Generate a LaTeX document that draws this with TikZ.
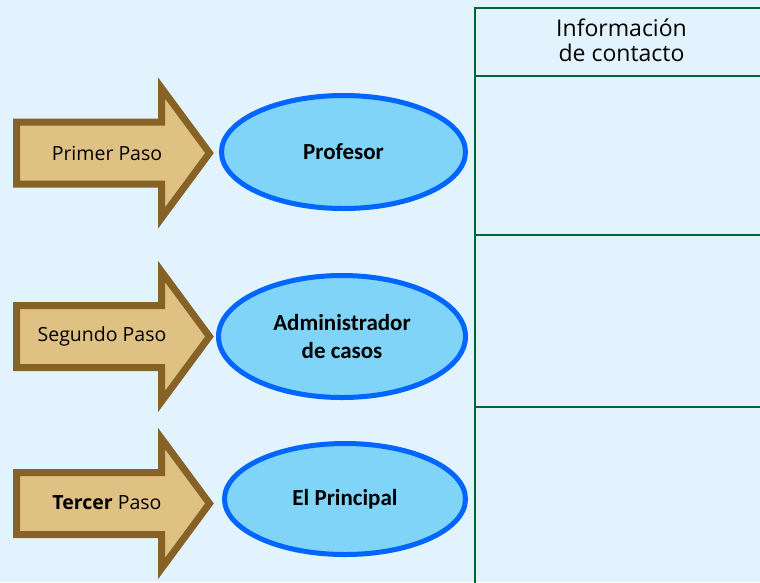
\documentclass[tikz,border=0pt]{standalone}
\usepackage{fontspec}
\setmainfont{Open Sans}
\newfontfamily\calib{Carlito}
\usetikzlibrary{shapes.geometric}
\definecolor{bgblue}{HTML}{E3F3FD}
\definecolor{tabgreen}{HTML}{006633}
\definecolor{arrowbrown}{HTML}{866226}
\definecolor{arrowfill}{HTML}{DFC283}
\definecolor{ellblue}{HTML}{0066FF}
\definecolor{ellfill}{HTML}{80D4F7}
\tikzset{
  steparrow/.style={draw=arrowbrown, fill=arrowfill, line width=7pt, miter limit=10},
  steptext/.style={font=\fontsize{19.5}{23}\selectfont, text=black, inner sep=0pt},
  roleell/.style={ellipse, draw=ellblue, fill=ellfill, line width=5pt, inner sep=0pt,
    font=\calib\bfseries\fontsize{23}{28}\selectfont, align=center},
  tabline/.style={draw=tabgreen, line width=2pt},
  headtext/.style={font=\fontsize{23}{25}\selectfont, align=center, inner sep=0pt}
}
\begin{document}
\begin{tikzpicture}[x=1pt,y=-1pt]
\fill[bgblue] (0,0) rectangle (760,582);
\useasboundingbox (0,0) rectangle (760,582);
% arrows
\foreach \c/\nm in {153/a1,336.5/a2,503.5/a3}{
  \draw[steparrow, shift={(0,\c)}] (16.5,-31) -- (161.5,-31) -- (161.5,-65) -- (209.5,0)
     -- (161.5,65) -- (161.5,31) -- (16.5,31) -- cycle;
}
\node[steptext] (t1) at (107,153) {Primer Paso};
\node[steptext] (t2) at (102,336) {Segundo Paso};
\node[steptext] (t3) at (107,503) {\textbf{Tercer} Paso};
% ellipses
\node[roleell, minimum width=244pt, minimum height=113pt] (e1) at (343.5,152) {Profesor};
\node[roleell, minimum width=247pt, minimum height=122pt] (e2) at (342,336.5) {Administrador\\de casos};
\node[roleell, minimum width=241pt, minimum height=111pt] (e3) at (345,499) {El Principal};
% table
\coordinate (tl) at (475,8);
\coordinate (tr) at (761,8);
\coordinate (bl) at (475,583);
\draw[tabline] (tr) -- (tl) -- (bl);
\draw[tabline] (475,76) -- (761,76);
\draw[tabline] (475,235) -- (761,235);
\draw[tabline] (475,407) -- (761,407);
\node[headtext] (h) at (621.5,40) {Información\\de contacto};
\end{tikzpicture}
\end{document}
